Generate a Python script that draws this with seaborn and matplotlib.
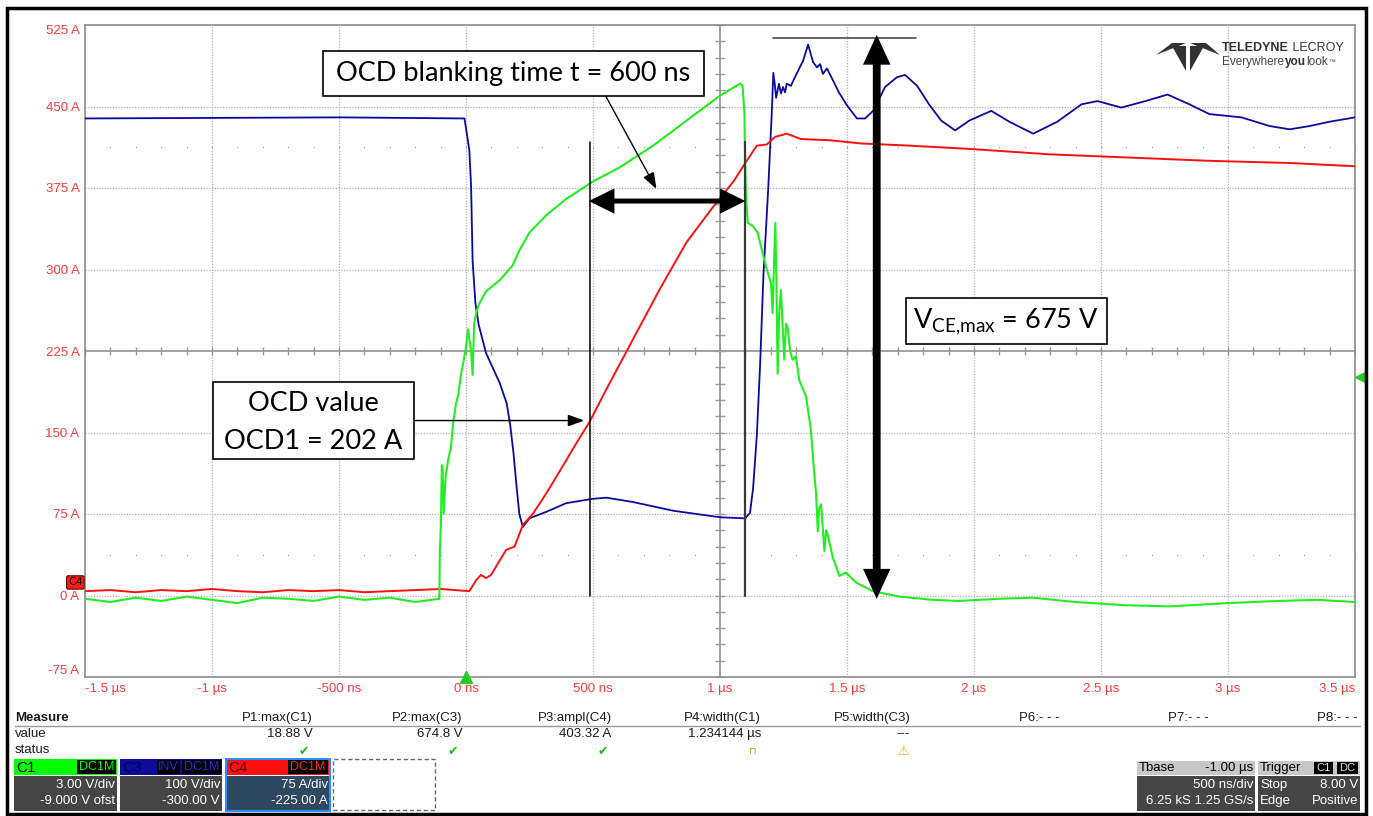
import numpy as np
import pandas as pd
import matplotlib
matplotlib.use('Agg')
import matplotlib.pyplot as plt
import seaborn as sns
from matplotlib.patches import Rectangle, Polygon, FancyArrowPatch
from matplotlib.lines import Line2D

sns.set_style('white')
plt.rcParams['font.family'] = ['Liberation Sans', 'DejaVu Sans']
plt.rcParams['mathtext.fontset'] = 'custom'
plt.rcParams['mathtext.rm'] = 'Lato'

# ---- trace data (time in us, value in screen units of the A axis) ----
green_t = [-1.5, -1.4, -1.3, -1.2, -1.1, -1.0, -0.9, -0.8, -0.7, -0.6, -0.5, -0.4, -0.3, -0.2, -0.105,
           -0.103, -0.099, -0.095, -0.092, -0.088, -0.08, -0.07, -0.059, -0.05, -0.039, -0.03, -0.02, -0.01,
           0.0, 0.008, 0.013, 0.02, 0.026, 0.032, 0.042, 0.053, 0.079, 0.132, 0.184, 0.211, 0.25, 0.316,
           0.395, 0.5, 0.605, 0.737, 0.868, 1.0, 1.079, 1.089, 1.096, 1.099, 1.102, 1.109, 1.129, 1.148,
           1.168, 1.181, 1.201, 1.207, 1.212, 1.218, 1.222, 1.227, 1.233, 1.24, 1.253, 1.26, 1.266, 1.276,
           1.286, 1.299, 1.312, 1.339, 1.358, 1.371, 1.378, 1.385, 1.39, 1.398, 1.411, 1.418, 1.424, 1.444,
           1.47, 1.496, 1.535, 1.601, 1.706, 1.837, 1.942, 2.1, 2.23, 2.4, 2.6, 2.77, 3.0, 3.2, 3.35, 3.5]
green_v = [-3, -6, -2, -5, -1, -4, -7, -2, -3, -5, -1, -4, -2, -6, -3,
           40, 65, 120, 117, 75, 110, 125, 137, 160, 177, 185, 203, 215,
           229, 245, 236, 225, 203, 250, 262, 269, 280, 290, 304, 318, 334, 350,
           365, 381, 394, 414, 437, 460, 471, 469, 445, 400, 370, 343, 340, 334,
           315, 303, 287, 260, 300, 343, 290, 204, 260, 281, 217, 250, 247, 225,
           217, 220, 198, 183, 152, 112, 95, 59, 80, 84, 41, 60, 56, 35,
           18, 21, 12, 4, -1, -4, -5, -3, -2, -6, -9, -10, -7, -5, -4, -6]

blue_t = [-1.5, -0.5, -0.006, 0.013, 0.02, 0.026, 0.037, 0.05, 0.079, 0.132, 0.16, 0.174, 0.187, 0.2,
          0.21, 0.224, 0.25, 0.316, 0.395, 0.5, 0.553, 0.658, 0.816, 1.0, 1.099, 1.118, 1.13, 1.145,
          1.158, 1.171, 1.19, 1.203, 1.21, 1.216, 1.221, 1.232, 1.24, 1.248, 1.256, 1.263, 1.279, 1.295,
          1.327, 1.347, 1.366, 1.382, 1.394, 1.405, 1.421, 1.445, 1.468, 1.5, 1.539, 1.571, 1.603, 1.65,
          1.697, 1.729, 1.776, 1.823, 1.871, 1.926, 1.981, 2.068, 2.139, 2.233, 2.328, 2.423, 2.486, 2.58,
          2.675, 2.762, 2.848, 2.927, 3.053, 3.164, 3.243, 3.321, 3.4, 3.5]
blue_v = [439, 440, 439, 410, 377, 308, 269, 249, 223, 196, 177, 157, 131, 98,
          75, 63, 71, 77, 85, 89, 90, 86, 78, 72, 71, 76, 98, 147,
          213, 295, 375, 440, 481, 470, 458, 471, 462, 468, 463, 471, 469, 477,
          492, 507, 491, 486, 489, 480, 485, 474, 463, 451, 439, 439, 446, 468,
          477, 479, 469, 452, 437, 428, 437, 446, 436, 425, 436, 452, 455, 449,
          455, 461, 452, 443, 440, 432, 429, 432, 436, 440]

red_t = [-1.5, -1.4, -1.3, -1.2, -1.1, -1.0, -0.9, -0.8, -0.7, -0.6, -0.5, -0.4, -0.3, -0.2, -0.1,
         0.013, 0.04, 0.059, 0.079, 0.099, 0.132, 0.158, 0.191, 0.224, 0.263, 0.316, 0.368, 0.434,
         0.487, 0.553, 0.658, 0.763, 0.868, 0.974, 1.053, 1.105, 1.145, 1.184, 1.216, 1.263, 1.319,
         1.429, 1.555, 1.744, 1.981, 2.296, 2.612, 2.927, 3.243, 3.5]
red_v = [4, 5, 3, 5, 4, 6, 4, 3, 5, 4, 5, 3, 4, 5, 6,
         4, 14, 19, 16, 19, 32, 42, 45, 65, 75, 94, 114, 140,
         160, 190, 236, 282, 325, 358, 381, 400, 414, 415, 422, 425, 420,
         419, 416, 414, 411, 406, 403, 400, 398, 395]

x_ticks = [-1.5, -1.0, -0.5, 0.0, 0.5, 1.0, 1.5, 2.0, 2.5, 3.0, 3.5]
x_labels = ['-1.5 µs', '-1 µs', '-500 ns', '0 ns', '500 ns', '1 µs', '1.5 µs', '2 µs', '2.5 µs', '3 µs', '3.5 µs']
y_ticks = [-75, 0, 75, 150, 225, 300, 375, 450, 525]
y_labels = ['-75 A', '0 A', '75 A', '150 A', '225 A', '300 A', '375 A', '450 A', '525 A']

measure_names = ['P1:max(C1)', 'P2:max(C3)', 'P3:ampl(C4)', 'P4:width(C1)', 'P5:width(C3)', 'P6:- - -', 'P7:- - -', 'P8:- - -']
measure_values = ['18.88 V', '674.8 V', '403.32 A', '1.234144 µs', '---', '', '', '']

W, H = 1373, 816
def fx(px): return px / W
def fy(py): return 1 - py / H

fig = plt.figure(figsize=(W / 100, H / 100), dpi=100)
ax = fig.add_axes([fx(85), fy(677), fx(1355) - fx(85), fy(25) - fy(677)])
ax.set_xlim(-1.5, 3.5)
ax.set_ylim(-75, 525)

tick_red = '#ff3a3a'
ax.set_xticks(x_ticks)
ax.set_xticklabels(x_labels)
ax.set_yticks(y_ticks)
ax.set_yticklabels(y_labels)
ax.tick_params(length=0, colors=tick_red, labelsize=9.5, pad=4)
xl = ax.get_xticklabels()
xl[0].set_ha('left')
xl[-1].set_ha('right')
yl = ax.get_yticklabels()
yl[0].set_va('bottom')
yl[-1].set_va('top')
for s in ax.spines.values():
    s.set_color('#8c8c8c')
    s.set_linewidth(1.2)

# grid
for t in x_ticks[1:-1]:
    if t == 1.0:
        ax.axvline(t, color='#9a9a9a', lw=1.3, zorder=0)
    else:
        ax.axvline(t, color='#b4b4b4', lw=0.9, ls=(0, (1, 1.2)), zorder=0)
for v in y_ticks[1:-1]:
    if v == 225:
        ax.axhline(v, color='#9a9a9a', lw=1.3, zorder=0)
    else:
        ax.axhline(v, color='#b4b4b4', lw=0.9, ls=(0, (1, 1.2)), zorder=0)
t_minor = np.arange(-1.5, 3.51, 0.1)
v_minor = np.arange(-75, 526, 15)
ax.plot(t_minor, np.full_like(t_minor, 225), ls='none', marker='|', ms=6, mew=1, color='#9a9a9a', zorder=0)
ax.plot(np.full_like(v_minor, 1.0, dtype=float), v_minor, ls='none', marker='_', ms=7, mew=1, color='#9a9a9a', zorder=0)
for v in [412.5, 37.5]:
    ax.plot(t_minor, np.full_like(t_minor, v), ls='none', marker='s', ms=0.8, mew=0, color='#a0a0a0', zorder=0)

# traces
blue_df = pd.DataFrame({'t': blue_t, 'v': blue_v})
red_df = pd.DataFrame({'t': red_t, 'v': red_v})
green_df = pd.DataFrame({'t': green_t, 'v': green_v})
sns.lineplot(data=blue_df, x='t', y='v', ax=ax, color='#0a0a9c', lw=1.3, sort=False, estimator=None, zorder=3)
sns.lineplot(data=red_df, x='t', y='v', ax=ax, color='#ff1010', lw=1.4, sort=False, estimator=None, zorder=3)
sns.lineplot(data=green_df, x='t', y='v', ax=ax, color='#22ee22', lw=1.5, sort=False, estimator=None, zorder=3)
ax.set_xlabel('')
ax.set_ylabel('')

# markers on axes
ax.plot([0], [-75], marker='^', ms=8, color='#22cc22', clip_on=False, zorder=6)
ax.plot([3.52], [201], marker='<', ms=7, color='#22cc22', clip_on=False, zorder=6)
ax.text(-1.538, 12, 'C4', fontsize=8, color='black', ha='center', va='center', zorder=7, clip_on=False,
        bbox=dict(boxstyle='round,pad=0.15', fc='#ff1a1a', ec='#550000', lw=0.8))

# ---- annotations ----
afont = dict(family=['Lato', 'DejaVu Sans'], color='black')
def box(t0, t1, v0, v1):
    ax.add_patch(Rectangle((t0, v0), t1 - t0, v1 - v0, fc='white', ec='black', lw=1.2, zorder=6))

box(-0.5626, 0.936, 459.6, 501)
ax.text(0.187, 480, 'OCD blanking time t = 600 ns', fontsize=19.5, ha='center', va='center', zorder=7, **afont)
box(-0.995, -0.2046, 125.9, 196.7)
ax.text(-0.6, 177, 'OCD value', fontsize=19.5, ha='center', va='center', zorder=7, **afont)
ax.text(-0.6, 142, 'OCD1 = 202 A', fontsize=19.5, ha='center', va='center', zorder=7, **afont)
box(1.731, 2.522, 231.6, 273.9)
ax.text(2.126, 252, r'$\mathregular{V_{CE{,}max}}$ = 675 V', fontsize=19.5, ha='center', va='center', zorder=7, **afont)

# cursor lines
ax.plot([0.488, 0.488], [0, 417], color='black', lw=1.1, zorder=4)
ax.plot([1.098, 1.098], [0, 417], color='#3a3a3a', lw=1.6, zorder=4)
ax.plot([1.208, 1.770], [513, 513], color='#555555', lw=1.3, zorder=4)

def arrow(p0, p1, style, lw, color='black'):
    ax.add_patch(FancyArrowPatch(p0, p1, arrowstyle=style, mutation_scale=10, lw=lw, color=color,
                                 shrinkA=0, shrinkB=0, joinstyle='miter', capstyle='butt', zorder=8))

arrow((0.55, 459.6), (0.75, 374), '-|>,head_length=1.0,head_width=0.36', 1.0)
arrow((-0.2046, 161), (0.466, 161), '-|>,head_length=1.0,head_width=0.36', 1.0)
arrow((0.484, 363), (1.100, 363), '<|-|>,head_length=1.25,head_width=0.62', 3.6)
arrow((1.617, 516), (1.617, -3), '<|-|>,head_length=1.2,head_width=0.55', 5.6)

# ---- logo ----
lf = dict(transform=fig.transFigure, va='center')
for pts in [[(1156, 55), (1172, 43), (1186, 43)], [(1190, 43), (1206, 43), (1220, 55)],
            [(1172, 46), (1186, 46), (1186, 71)], [(1190, 46), (1204, 46), (1190, 71)]]:
    fig.add_artist(Polygon([(fx(a), fy(b)) for a, b in pts], closed=True, fc='#333333', ec='none',
                           transform=fig.transFigure))
renderer = fig.canvas.get_renderer()

def text_row(x0, y0, parts):
    x = x0
    for s, kw in parts:
        t = fig.text(fx(x), fy(y0), s, **lf, **kw)
        x = t.get_window_extent(renderer).x1 + 0.5

text_row(1222, 48, [('TELEDYNE', dict(fontsize=9, weight='bold', color='#333333')),
                    (' LECROY', dict(fontsize=9, color='#333333'))])
text_row(1222, 62, [('Everywhere', dict(fontsize=8.5, color='#444444')),
                    ('you', dict(fontsize=8.5, weight='bold', color='#333333')),
                    ('look', dict(fontsize=8.5, color='#444444')),
                    ('™', dict(fontsize=5, color='#444444'))])

# ---- measurement panel ----
pf = dict(transform=fig.transFigure, va='center', fontsize=9.5, color='#1a1a1a')
fig.text(fx(15), fy(718), 'Measure', weight='bold', **pf)
fig.text(fx(15), fy(734), 'value', **pf)
fig.text(fx(15), fy(750), 'status', **pf)
fig.add_artist(Line2D([fx(15), fx(1360)], [fy(726), fy(726)], color='#999999', lw=1, transform=fig.transFigure))
for i, (name, val) in enumerate(zip(measure_names, measure_values)):
    xe = 313 + 149.3 * i
    fig.text(fx(xe), fy(718), name, ha='right', **pf)
    if val:
        fig.text(fx(xe), fy(734), val, ha='right', **pf)
for i in range(3):
    fig.text(fx(313 + 149.3 * i - 4), fy(751), '✔', ha='right', transform=fig.transFigure, va='center',
             fontsize=9, color='#22bb22', family=['DejaVu Sans'])
fig.text(fx(753), fy(751), '⊓', ha='center', transform=fig.transFigure, va='center', fontsize=7,
         color='#b8a000', family=['DejaVu Sans'])
fig.text(fx(903), fy(751), '⚠', ha='center', transform=fig.transFigure, va='center', fontsize=9,
         color='#e0b800', family=['DejaVu Sans'])

def rect(x0, y0, x1, y1, **kw):
    fig.add_artist(Rectangle((fx(x0), fy(y1)), fx(x1) - fx(x0), fy(y0) - fy(y1), transform=fig.transFigure, **kw))

def badge(x0, x1, label, tc):
    rect(x0, 760, x1, 774, fc='black', ec='none')
    fig.text(fx((x0 + x1) / 2), fy(767.5), label, ha='center', va='center', fontsize=9,
             color=tc, transform=fig.transFigure)

bf = dict(transform=fig.transFigure, va='center', fontsize=9.5, color='white')
# C1
rect(14, 759, 117, 775, fc='#00ff00', ec='none')
fig.text(fx(16), fy(767.5), 'C1', transform=fig.transFigure, va='center', fontsize=11, color='black')
badge(77, 116, 'DC1M', '#00ff00')
rect(14, 776, 117, 811, fc='#454545', ec='none')
fig.text(fx(115), fy(785), '3.00 V/div', ha='right', **bf)
fig.text(fx(115), fy(801), '-9.000 V ofst', ha='right', **bf)
# C3
rect(120, 759, 222, 775, fc='#0c0c9a', ec='none')
fig.text(fx(122), fy(767.5), 'C3', transform=fig.transFigure, va='center', fontsize=11, color='#00005a')
badge(157, 180, 'INV', '#2a2ad0')
badge(182, 221, 'DC1M', '#2a2ad0')
rect(120, 776, 222, 811, fc='#454545', ec='none')
fig.text(fx(220), fy(785), '100 V/div', ha='right', **bf)
fig.text(fx(220), fy(801), '-300.00 V', ha='right', **bf)
# C4
rect(226, 759, 330, 775, fc='#ff1010', ec='none')
fig.text(fx(228), fy(767.5), 'C4', transform=fig.transFigure, va='center', fontsize=11, color='#5a0000')
badge(288, 328, 'DC1M', '#ff2020')
rect(226, 776, 330, 811, fc='#2e4862', ec='none')
rect(226, 759, 330, 811, fc='none', ec='#2a90ff', lw=1.5)
fig.text(fx(328), fy(785), '75 A/div', ha='right', **bf)
fig.text(fx(328), fy(801), '-225.00 A', ha='right', **bf)
rect(333, 759, 435, 810, fc='none', ec='#666666', lw=1, ls=(0, (3, 2)))

# Tbase
rect(1137, 761, 1255, 775, fc='#c8c8c8', ec='none')
fig.text(fx(1139), fy(768), 'Tbase', transform=fig.transFigure, va='center', fontsize=9.5, color='black')
fig.text(fx(1253), fy(768), '-1.00 µs', ha='right', transform=fig.transFigure, va='center', fontsize=9.5, color='black')
rect(1137, 776, 1255, 811, fc='#454545', ec='none')
fig.text(fx(1253), fy(785), '500 ns/div', ha='right', **bf)
fig.text(fx(1253), fy(801), '6.25 kS 1.25 GS/s', ha='right', **bf)
# Trigger
rect(1258, 761, 1360, 775, fc='#c8c8c8', ec='none')
fig.text(fx(1260), fy(768), 'Trigger', transform=fig.transFigure, va='center', fontsize=9.5, color='black')
rect(1314, 762, 1333, 774, fc='black', ec='none')
fig.text(fx(1323.5), fy(768), 'C1', ha='center', transform=fig.transFigure, va='center', fontsize=8, color='#dddddd')
rect(1337, 762, 1358, 774, fc='black', ec='none')
fig.text(fx(1347.5), fy(768), 'DC', ha='center', transform=fig.transFigure, va='center', fontsize=8, color='#dddddd')
rect(1258, 776, 1360, 811, fc='#454545', ec='none')
fig.text(fx(1260), fy(785), 'Stop', **bf)
fig.text(fx(1358), fy(785), '8.00 V', ha='right', **bf)
fig.text(fx(1260), fy(801), 'Edge', **bf)
fig.text(fx(1358), fy(801), 'Positive', ha='right', **bf)

# outer frame
rect(7, 8, 1366, 814, fc='none', ec='black', lw=2.5)

fig.savefig('out.png', dpi=100)
